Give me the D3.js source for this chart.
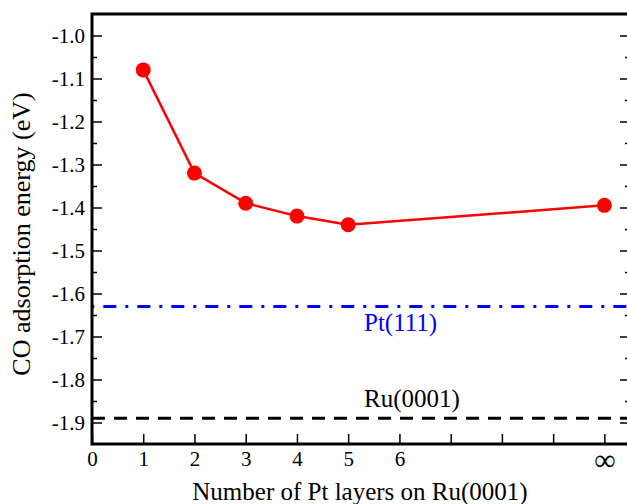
<!DOCTYPE html>
<html>
<head>
<meta charset="utf-8">
<script src="https://cdn.jsdelivr.net/npm/d3@7"></script>
<style>
  body { margin: 0; background: #fff; }
  svg text { font-family: "Liberation Serif", "Times New Roman", serif; }
</style>
</head>
<body>
<div class="chart"></div>
<script>
var svgWidth = 627;
var svgHeight = 504;

var margin = { top: 14, right: -3, bottom: 60, left: 92 };
var width = svgWidth - margin.left - margin.right;
var height = svgHeight - margin.top - margin.bottom;

// data
var layers = [1, 2, 3, 4, 5, 10];
var energies = [-1.08, -1.32, -1.39, -1.42, -1.44, -1.395];
var xTicks = [0, 1, 2, 3, 4, 5, 6, 7, 8, 9, 10];
var xTickLabels = ["0", "1", "2", "3", "4", "5", "6", "", "", "", "\u221e"];
var yTicks = [-1.9, -1.8, -1.7, -1.6, -1.5, -1.4, -1.3, -1.2, -1.1, -1.0];
var yMinorTicks = [-1.85, -1.75, -1.65, -1.55, -1.45, -1.35, -1.25, -1.15, -1.05];
var refNames = ["Pt(111)", "Ru(0001)"];
var refValues = [-1.63, -1.89];

var svg = d3.select(".chart")
  .append("svg")
  .attr("width", svgWidth)
  .attr("height", svgHeight);

var chartGroup = svg.append("g")
  .attr("transform", `translate(${margin.left}, ${margin.top})`);

var xScale = d3.scaleLinear().domain([0, 10.5]).range([0, width]);
var yScale = d3.scaleLinear().domain([-1.95, -0.95]).range([height, 0]);

// reference lines
var refColors = ["#0000ff", "#000000"];
var refDash = ["13,9,3,9", "13,9"];
var refOffset = [22.7, 0];

chartGroup.selectAll(".ref")
  .data(refValues)
  .enter()
  .append("line")
  .attr("x1", 0)
  .attr("x2", width)
  .attr("y1", d => yScale(d))
  .attr("y2", d => yScale(d))
  .attr("stroke", (d, i) => refColors[i])
  .attr("stroke-width", 3)
  .attr("stroke-dasharray", (d, i) => refDash[i])
  .attr("stroke-dashoffset", (d, i) => refOffset[i]);

chartGroup.selectAll(".reflabel")
  .data(refValues)
  .enter()
  .append("text")
  .attr("x", 272)
  .attr("y", (d, i) => yScale(d) + (i == 0 ? 25 : -11))
  .attr("fill", (d, i) => refColors[i])
  .attr("font-size", "25px")
  .text((d, i) => refNames[i]);

// data line + markers
var line = d3.line()
  .x(d => xScale(d[0]))
  .y(d => yScale(d[1]));

var pts = layers.map((l, i) => [l, energies[i]]);

chartGroup.append("path")
  .datum(pts)
  .attr("d", line)
  .attr("fill", "none")
  .attr("stroke", "#ff0000")
  .attr("stroke-width", 2.5);

chartGroup.selectAll("circle")
  .data(pts)
  .enter()
  .append("circle")
  .attr("cx", d => xScale(d[0]))
  .attr("cy", d => yScale(d[1]))
  .attr("r", 7.5)
  .attr("fill", "#ff0000");

// axes
var bottomAxis = d3.axisBottom(xScale)
  .tickValues(xTicks)
  .tickSize(-10)
  .tickPadding(7)
  .tickFormat((d, i) => xTickLabels[i]);

var leftAxis = d3.axisLeft(yScale)
  .tickValues(yTicks)
  .tickSize(-10)
  .tickPadding(7)
  .tickFormat(d3.format(".1f"));

var leftMinor = d3.axisLeft(yScale).tickValues(yMinorTicks).tickSize(-5).tickFormat("");
var rightAxis = d3.axisRight(yScale).tickValues(yTicks).tickSize(-10).tickFormat("");
var rightMinor = d3.axisRight(yScale).tickValues(yMinorTicks).tickSize(-5).tickFormat("");

var gx = chartGroup.append("g")
  .attr("transform", `translate(0, ${height})`)
  .call(bottomAxis);

var gy = chartGroup.append("g").call(leftAxis);
chartGroup.append("g").call(leftMinor);
chartGroup.append("g").attr("transform", `translate(${width}, 0)`).call(rightAxis);
chartGroup.append("g").attr("transform", `translate(${width}, 0)`).call(rightMinor);

chartGroup.selectAll(".domain").remove();
chartGroup.selectAll(".tick line").attr("stroke", "#000").attr("stroke-width", 1.5);
gx.selectAll("text").attr("font-size", "21px").attr("fill", "#000");
gx.selectAll("text").filter((d, i) => i == 10).attr("font-size", "30px").attr("dy", "0.62em");
gy.selectAll("text").attr("font-size", "21px").attr("fill", "#000")
  .text(d => d3.format(".1f")(d).replace("\u2212", "-"));

// frame
chartGroup.append("rect")
  .attr("x", 0)
  .attr("y", 0)
  .attr("width", width)
  .attr("height", height)
  .attr("fill", "none")
  .attr("stroke", "#000")
  .attr("stroke-width", 3);

// titles
svg.append("text")
  .attr("transform", `translate(30, 234) rotate(-90)`)
  .attr("text-anchor", "middle")
  .attr("font-size", "26px")
  .text("CO adsorption energy (eV)");

svg.append("text")
  .attr("x", 360)
  .attr("y", 500)
  .attr("text-anchor", "middle")
  .attr("font-size", "25px")
  .text("Number of Pt layers on Ru(0001)");
</script>
</body>
</html>
